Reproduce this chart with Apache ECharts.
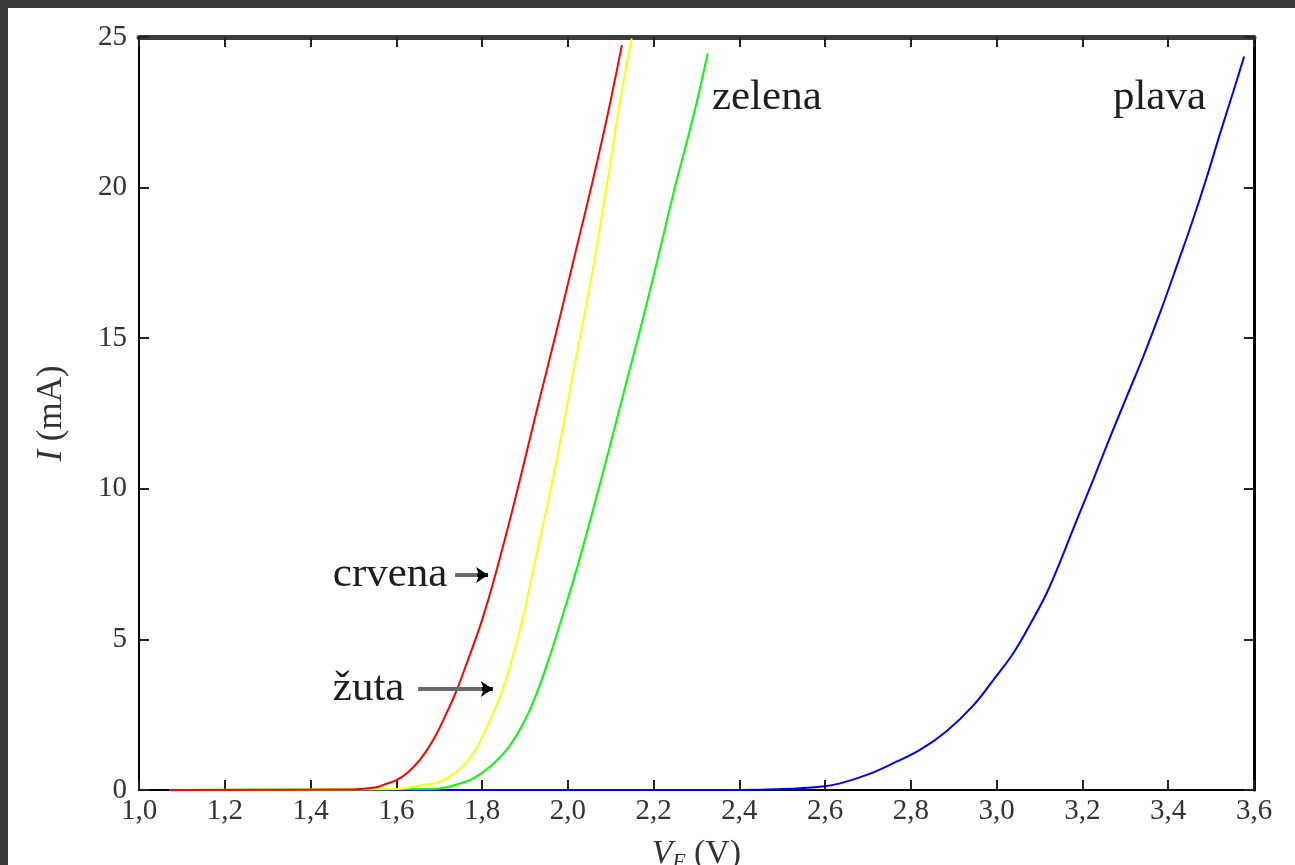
<!DOCTYPE html>
<html>
<head>
<meta charset="utf-8">
<script src="https://cdn.jsdelivr.net/npm/echarts@6/dist/echarts.min.js"></script>
<style>
html,body{margin:0;padding:0;background:#3a3a3a;width:1295px;height:865px;overflow:hidden;}
#main{position:absolute;left:8px;top:8px;width:1287px;height:857px;background:#fff;}
</style>
</head>
<body>
<div id="main"></div>
<script>
// X axis ticks (V) and Y axis ticks (mA)
const xTicks = [1.0,1.2,1.4,1.6,1.8,2.0,2.2,2.4,2.6,2.8,3.0,3.2,3.4,3.6];
const yTicks = [0,5,10,15,20,25];

// crvena (red)
const redV = [1.07,1.50,1.55,1.57,1.60,1.624,1.655,1.686,1.717,1.741,1.764,1.799,1.830,1.869,1.896,1.931,1.978,2.021,2.056,2.091,2.126];
const redI = [0,0.02,0.08,0.17,0.33,0.55,1.0,1.66,2.55,3.32,4.2,5.6,7.1,9.2,10.75,12.8,15.49,18.04,20.1,22.3,24.73];
// žuta (yellow)
const yelV = [1.07,1.60,1.63,1.663,1.702,1.741,1.780,1.811,1.842,1.865,1.896,1.916,1.943,1.966,1.989,2.013,2.036,2.056,2.075,2.098,2.122,2.149];
const yelI = [0,0.03,0.08,0.17,0.28,0.61,1.22,2.10,3.10,4.09,5.75,7.1,8.85,10.4,12.06,13.9,15.6,17.1,18.7,20.7,22.9,24.95];
// zelena (green)
const grnV = [1.07,1.68,1.72,1.749,1.780,1.818,1.857,1.896,1.927,1.958,1.989,2.021,2.052,2.083,2.114,2.145,2.176,2.215,2.246,2.277,2.300,2.326];
const grnI = [0,0.03,0.10,0.22,0.39,0.77,1.33,2.21,3.2,4.45,5.85,7.35,8.95,10.6,12.3,14.0,15.7,17.95,19.8,21.5,22.8,24.45];
// plava (blue)
const bluV = [1.07,2.40,2.50,2.588,2.635,2.697,2.759,2.821,2.883,2.945,2.992,3.039,3.078,3.117,3.150,3.185,3.225,3.264,3.303,3.342,3.381,3.420,3.458,3.490,3.521,3.552,3.577];
const bluI = [0,0,0.03,0.11,0.22,0.50,0.89,1.33,1.95,2.8,3.65,4.55,5.5,6.55,7.65,8.9,10.3,11.7,13.05,14.4,15.85,17.4,18.95,20.35,21.8,23.2,24.35];

// annotation text
const names = {red:'crvena', yellow:'žuta', green:'zelena', blue:'plava'};

function pairs(v, i){ return v.map((x,k)=>[x,i[k]]); }

const serif = 'Liberation Serif';
const annLabel = (txt)=>({show:true, position:'right', distance:0, formatter:txt,
  fontFamily:serif, fontSize:43, color:'#1e1e1e'});
const shaft = {color:'#6a6a6a', width:4, type:'solid'};
const head = {color:'#000', width:4, type:'solid'};
function arrow(x0, x1, y){
  return [
    [{coord:[x0,y], symbol:'none', lineStyle:shaft},{coord:[x1-0.02,y], symbol:'none', lineStyle:shaft}],
    [{coord:[x1-0.025,y], symbol:'none', lineStyle:head},{coord:[x1,y], symbol:'arrow', symbolSize:[12,12], lineStyle:head}]
  ];
}

const el = document.getElementById('main');
const chart = echarts.init(el, null, {renderer:'canvas', width:1287, height:857});
const fmt = v => v.toFixed(1).replace('.', ',');

const lineBase = {type:'line', showSymbol:false, smooth:0.4, z:3};

chart.setOption({
  animation:false,
  backgroundColor:'#fff',
  grid:{left:131, top:29, right:41, bottom:75, containLabel:false, outerBoundsMode:'none'},
  xAxis:[{
    type:'value', min:1.0, max:3.6, interval:0.2, position:'bottom',
    axisLine:{show:true, onZero:false, lineStyle:{color:'#000', width:2}},
    axisTick:{show:true, inside:true, length:10, lineStyle:{color:'#222', width:2}},
    splitLine:{show:false},
    axisLabel:{formatter:fmt, fontFamily:serif, fontSize:29, color:'#333', margin:7},
    name:'{i|V}{s|F} (V)', nameLocation:'middle', nameGap:46,
    nameTextStyle:{fontFamily:serif, fontSize:34, color:'#333',
      rich:{i:{fontFamily:serif, fontStyle:'italic', fontSize:34, color:'#333'},
            s:{fontFamily:serif, fontStyle:'italic', fontSize:21, color:'#333', padding:[16,0,0,0]}}}
  },{
    type:'value', min:1.0, max:3.6, interval:0.2, position:'top',
    axisLine:{show:true, onZero:false, lineStyle:{color:'#3c3c3c', width:5}},
    axisTick:{show:true, inside:true, length:10, lineStyle:{color:'#222', width:2}},
    axisLabel:{show:false}, splitLine:{show:false}
  }],
  yAxis:[{
    type:'value', min:0, max:25, interval:5, position:'left',
    axisLine:{show:true, onZero:false, lineStyle:{color:'#000', width:2}},
    axisTick:{show:true, inside:true, length:10, lineStyle:{color:'#222', width:2}},
    splitLine:{show:false},
    axisLabel:{fontFamily:serif, fontSize:29, color:'#333', margin:12},
    name:'{i|I} (mA)', nameLocation:'middle', nameGap:70, nameRotate:90,
    nameTextStyle:{fontFamily:serif, fontSize:35, color:'#333',
      rich:{i:{fontFamily:serif, fontStyle:'italic', fontSize:35, color:'#333'}}}
  },{
    type:'value', min:0, max:25, interval:5, position:'right',
    axisLine:{show:true, onZero:false, lineStyle:{color:'#000', width:3}},
    axisTick:{show:true, inside:true, length:10, lineStyle:{color:'#222', width:2}},
    axisLabel:{show:false}, splitLine:{show:false}
  }],
  series:[
    Object.assign({}, lineBase, {name:'plava', data:pairs(bluV,bluI),
     lineStyle:{color:'#0000ff', width:2},
     markPoint:{symbol:'circle', symbolSize:0, silent:true,
       data:[{coord:[3.271,23.0], label:annLabel(names.blue)}]}}),
    Object.assign({}, lineBase, {name:'zelena', data:pairs(grnV,grnI),
     lineStyle:{color:'#00ff00', width:2},
     markPoint:{symbol:'circle', symbolSize:0, silent:true,
       data:[{coord:[2.336,23.0], label:annLabel(names.green)}]}}),
    Object.assign({}, lineBase, {name:'žuta', data:pairs(yelV,yelI),
     lineStyle:{color:'#ffff00', width:2},
     markPoint:{symbol:'circle', symbolSize:0, silent:true,
       data:[{coord:[1.452,3.35], label:annLabel(names.yellow)}]},
     markLine:{silent:true, symbol:['none','none'], label:{show:false}, z:5,
       data:arrow(1.651, 1.825, 3.35)}}),
    Object.assign({}, lineBase, {name:'crvena', data:pairs(redV,redI),
     lineStyle:{color:'#ff0000', width:2},
     markPoint:{symbol:'circle', symbolSize:0, silent:true,
       data:[{coord:[1.452,7.14], label:annLabel(names.red)}]},
     markLine:{silent:true, symbol:['none','none'], label:{show:false}, z:5,
       data:arrow(1.737, 1.814, 7.14)}})
  ]
});
</script>
</body>
</html>
